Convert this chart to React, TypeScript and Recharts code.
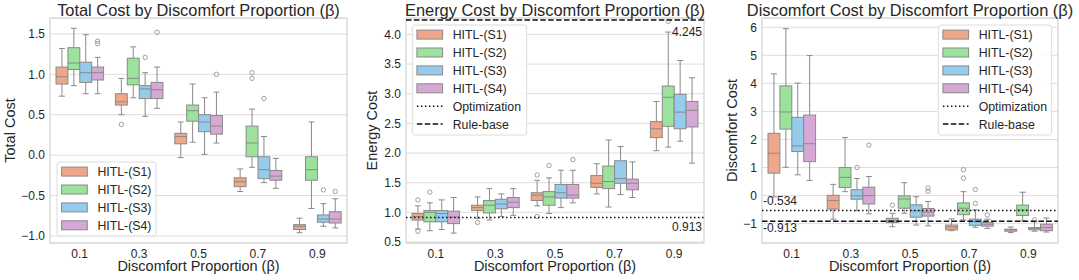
import React from 'react';
import { ComposedChart, Bar, XAxis, YAxis, CartesianGrid, ReferenceLine, ReferenceArea } from 'recharts';

const betas = ['0.1', '0.3', '0.5', '0.7', '0.9'];
const seriesNames = ['HITL-(S1)', 'HITL-(S2)', 'HITL-(S3)', 'HITL-(S4)'];
const seriesColors = ['#eea78a', '#9ce29c', '#95cbec', '#d5a8d5'];

// each box: [whisker low, q1, median, q3, whisker high], one per beta
const totalS1 = [[0.73, 0.88, 0.97, 1.09, 1.32], [0.5, 0.62, 0.66, 0.76, 0.95], [-0.03, 0.14, 0.23, 0.27, 0.41], [-0.45, -0.39, -0.33, -0.28, -0.17], [-0.96, -0.92, -0.88, -0.86, -0.78]];
const totalS2 = [[0.86, 1.06, 1.14, 1.33, 1.57], [0.71, 0.87, 0.95, 1.2, 1.34], [0.16, 0.42, 0.55, 0.62, 0.88], [-0.15, -0.02, 0.15, 0.36, 0.57], [-0.66, -0.31, -0.18, -0.02, 0.41]];
const totalS3 = [[0.76, 0.9, 1.02, 1.15, 1.49], [0.48, 0.7, 0.82, 0.86, 1.02], [0.01, 0.29, 0.41, 0.5, 0.71], [-0.34, -0.29, -0.18, -0.02, 0.23], [-0.88, -0.83, -0.79, -0.74, -0.6]];
const totalS4 = [[0.76, 0.93, 1.02, 1.09, 1.21], [0.58, 0.7, 0.81, 0.9, 1.09], [0.15, 0.26, 0.36, 0.49, 0.78], [-0.41, -0.31, -0.26, -0.19, -0.04], [-0.9, -0.84, -0.79, -0.7, -0.54]];
const totalS1Out = [[], [0.38], [], [], []];
const totalS2Out = [[], [], [], [1.02, 0.95], []];
const totalS3Out = [[], [1.21], [], [0.7], [-0.43]];
const totalS4Out = [[1.41, 1.38], [1.52], [1.0], [], [-0.45]];

const energyS1 = [[0.72, 0.87, 0.93, 0.98, 1.11], [0.9, 1.03, 1.08, 1.12, 1.26], [1.11, 1.2, 1.29, 1.33, 1.54], [1.31, 1.42, 1.49, 1.62, 1.82], [2.04, 2.26, 2.41, 2.53, 2.87]];
const energyS2 = [[0.69, 0.84, 1.0, 1.03, 1.16], [0.87, 0.99, 1.12, 1.2, 1.4], [0.98, 1.12, 1.26, 1.35, 1.58], [1.09, 1.4, 1.52, 1.78, 2.22], [2.1, 2.45, 2.94, 3.13, 4.04]];
const energyS3 = [[0.71, 0.84, 0.98, 1.03, 1.21], [0.93, 1.06, 1.14, 1.22, 1.31], [1.08, 1.24, 1.33, 1.47, 1.71], [1.3, 1.49, 1.57, 1.87, 2.11], [2.2, 2.41, 2.69, 2.99, 3.56]];
const energyS4 = [[0.65, 0.81, 0.92, 1.02, 1.25], [0.95, 1.08, 1.17, 1.25, 1.4], [1.16, 1.24, 1.29, 1.47, 1.71], [1.25, 1.38, 1.49, 1.56, 1.85], [1.83, 2.44, 2.72, 2.87, 3.27]];
const energyS1Out = [[1.21, 0.68], [0.83], [1.63, 0.93], [], []];
const energyS2Out = [[1.34], [], [1.79], [], [4.22]];
const energyS3Out = [[], [], [], [], []];
const energyS4Out = [[], [], [1.89], [], []];

const discS1 = [[-0.05, 0.8, 1.51, 2.22, 4.34], [-0.84, -0.48, -0.18, 0.01, 0.4], [-1.11, -0.96, -0.9, -0.81, -0.63], [-1.25, -1.22, -1.12, -1.05, -0.83], [-1.32, -1.27, -1.22, -1.2, -1.12]];
const discS2 = [[1.01, 2.37, 2.98, 3.91, 5.95], [0.14, 0.29, 0.65, 1.0, 2.07], [-0.63, -0.45, -0.12, -0.01, 0.46], [-0.87, -0.68, -0.45, -0.26, 0.14], [-0.9, -0.71, -0.51, -0.34, 0.12]];
const discS3 = [[0.74, 1.57, 1.77, 2.79, 4.01], [-0.54, -0.13, -0.01, 0.21, 0.61], [-1.05, -0.77, -0.54, -0.33, -0.04], [-1.13, -1.06, -0.93, -0.84, -0.51], [-1.27, -1.22, -1.18, -1.14, -0.93]];
const discS4 = [[0.54, 1.21, 1.85, 2.87, 4.99], [-0.65, -0.3, 0.0, 0.3, 0.68], [-1.08, -0.73, -0.59, -0.46, -0.21], [-1.17, -1.09, -1.02, -0.96, -0.84], [-1.3, -1.25, -1.14, -1.02, -0.8]];
const discS1Out = [[], [], [-0.34], [], []];
const discS2Out = [[], [], [], [0.92, 0.62], []];
const discS3Out = [[], [1.0], [], [0.22, -0.28], [-0.86]];
const discS4Out = [[], [1.8], [0.27, 0.15], [-0.69], []];

const totalTicks = [-1, -0.5, 0, 0.5, 1, 1.5];
const energyTicks = [0.5, 1, 1.5, 2, 2.5, 3, 3.5, 4];
const discTicks = [-1, 0, 1, 2, 3, 4, 5, 6];

const optEnergy = 0.913;
const ruleEnergy = 4.245;
const optDisc = -0.534;
const ruleDisc = -0.913;

const FONT = '"Liberation Sans", Arial, sans-serif';
const TEXT = '#262626';
const EDGE = '#8a8a8a';
const GRID = '#dedede';

const buildRows = (series: number[][][], outs: number[][][]) =>
  betas.map((b, i) => ({
    beta: b,
    boxes: series.map((s, k) => ({ stat: s[i], outs: outs[k][i] })),
  }));

const BoxShape = (props: any) => {
  const { x, y, width, height, box, color } = props;
  const [lo, q1, med, q3, hi] = box.stat;
  const vmin = Math.min(lo, ...box.outs);
  const vmax = Math.max(hi, ...box.outs);
  const top = Math.min(y, y + height);
  const span = Math.abs(height);
  const py = (v: number) => top + ((vmax - v) / (vmax - vmin)) * span;
  const cx = x + width / 2;
  const cap = width * 0.25;
  return (
    <g>
      <line x1={cx} x2={cx} y1={py(hi)} y2={py(q3)} stroke={EDGE} />
      <line x1={cx} x2={cx} y1={py(q1)} y2={py(lo)} stroke={EDGE} />
      <line x1={cx - cap} x2={cx + cap} y1={py(hi)} y2={py(hi)} stroke={EDGE} />
      <line x1={cx - cap} x2={cx + cap} y1={py(lo)} y2={py(lo)} stroke={EDGE} />
      <rect x={x} y={py(q3)} width={width} height={py(q1) - py(q3)} fill={color} stroke={EDGE} />
      <line x1={x} x2={x + width} y1={py(med)} y2={py(med)} stroke={EDGE} />
      {box.outs.map((o: number, i: number) => (
        <circle key={i} cx={cx} cy={py(o)} r={2.2} fill="none" stroke={EDGE} strokeWidth={0.8} />
      ))}
    </g>
  );
};

interface RefDef {
  y: number;
  dash: string;
  text: string;
  align: 'left' | 'right';
  dy: number;
}

interface PanelProps {
  left: number;
  width: number;
  yAxisWidth: number;
  right: number;
  yLabel: string;
  yLabelX: number;
  domain: [number, number];
  ticks: number[];
  fmt: (v: number) => string;
  rows: any[];
  refs: RefDef[];
}

const Panel: React.FC<PanelProps> = ({ left, width, yAxisWidth, right, yLabel, yLabelX, domain, ticks, fmt, rows, refs }) => (
  <div style={{ position: 'absolute', left, top: 0 }}>
    <ComposedChart width={width} height={280} data={rows} margin={{ top: 18, right, bottom: 0, left: 0 }} barCategoryGap="10%" barGap={0}>
      <CartesianGrid vertical={false} stroke={GRID} />
      <XAxis
        dataKey="beta"
        height={37}
        tickSize={0}
        tickMargin={6}
        axisLine={false}
        tick={{ fill: TEXT, fontSize: 12 }}
        label={(p: any) => {
          const vb = p.viewBox;
          return (
            <text x={vb.x + vb.width / 2} y={vb.y + 28} textAnchor="middle" fontSize={14.5} fill={TEXT}>
              Discomfort Proportion (β)
            </text>
          );
        }}
      />
      <YAxis
        type="number"
        domain={domain}
        ticks={ticks}
        allowDataOverflow
        width={yAxisWidth}
        tickSize={0}
        tickMargin={5}
        axisLine={false}
        tickFormatter={fmt}
        tick={{ fill: TEXT, fontSize: 12 }}
        label={(p: any) => {
          const vb = p.viewBox;
          const cx = vb.x + yLabelX;
          const cy = vb.y + vb.height / 2;
          return (
            <text x={cx} y={cy + 5.2} transform={`rotate(-90 ${cx} ${cy})`} textAnchor="middle" fontSize={14.5} fill={TEXT}>
              {yLabel}
            </text>
          );
        }}
      />
      {seriesNames.map((name, k) => (
        <Bar
          key={name}
          name={name}
          dataKey={(r: any) => {
            const b = r.boxes[k];
            return [Math.min(b.stat[0], ...b.outs), Math.max(b.stat[4], ...b.outs)];
          }}
          barSize={11.9}
          isAnimationActive={false}
          shape={(p: any) => <BoxShape {...p} box={p.payload.boxes[k]} color={seriesColors[k]} />}
        />
      ))}
      {refs.map((r) => (
        <ReferenceLine
          key={r.text}
          y={r.y}
          stroke="#111"
          strokeWidth={1.5}
          strokeDasharray={r.dash}
          label={(p: any) => {
            const vb = p.viewBox;
            const tx = r.align === 'right' ? vb.x + vb.width - 2 : vb.x + 1;
            return (
              <text x={tx} y={vb.y + r.dy} textAnchor={r.align === 'right' ? 'end' : 'start'} fontSize={12} fill={TEXT}>
                {r.text}
              </text>
            );
          }}
        />
      ))}
      <ReferenceArea y1={domain[0]} y2={domain[1]} fill="none" stroke="#d2d2d2" strokeWidth={1.2} ifOverflow="visible" />
    </ComposedChart>
  </div>
);

const LegendBox = ({ left, top, width, height, withLines }: { left: number; top: number; width: number; height: number; withLines: boolean }) => {
  const rows = withLines ? [...seriesNames, 'Optimization', 'Rule-base'] : seriesNames;
  return (
    <g>
      <rect x={left} y={top} width={width} height={height} rx={3} fill="#fff" fillOpacity={0.85} stroke="#dcdcdc" />
      {rows.map((label, i) => {
        const cy = top + 9.6 + i * 17.9;
        return (
          <g key={label}>
            {i < 4 ? (
              <rect x={left + 4.6} y={cy - 4.5} width={25.7} height={9} fill={seriesColors[i]} stroke={EDGE} />
            ) : (
              <line x1={left + 4.6} x2={left + 30.3} y1={cy} y2={cy} stroke="#111" strokeWidth={1.5} strokeDasharray={i === 4 ? '1.5 2.5' : '5.5 2.4'} />
            )}
            <text x={left + 40.4} y={cy + 4.4} fontSize={12.3} fill={TEXT}>
              {label}
            </text>
          </g>
        );
      })}
    </g>
  );
};

const minus = (s: string) => s.replace('-', '\u2212');

export default function App() {
  const totalRows = buildRows([totalS1, totalS2, totalS3, totalS4], [totalS1Out, totalS2Out, totalS3Out, totalS4Out]);
  const energyRows = buildRows([energyS1, energyS2, energyS3, energyS4], [energyS1Out, energyS2Out, energyS3Out, energyS4Out]);
  const discRows = buildRows([discS1, discS2, discS3, discS4], [discS1Out, discS2Out, discS3Out, discS4Out]);

  return (
    <div style={{ position: 'absolute', left: 0, top: 0, width: 1079, height: 280, background: '#fff', fontFamily: FONT }}>
      <Panel
        left={0}
        width={360}
        yAxisWidth={50}
        right={13}
        yLabel="Total Cost"
        yLabelX={9.5}
        domain={[-1.087, 1.697]}
        ticks={totalTicks}
        fmt={(v) => minus(v.toFixed(1))}
        rows={totalRows}
        refs={[]}
      />
      <Panel
        left={360}
        width={355}
        yAxisWidth={46}
        right={11}
        yLabel="Energy Cost"
        yLabelX={12}
        domain={[0.483, 4.277]}
        ticks={energyTicks}
        fmt={(v) => v.toFixed(1)}
        rows={energyRows}
        refs={[
          { y: optEnergy, dash: '1.5 2.5', text: '0.913', align: 'right', dy: 14 },
          { y: ruleEnergy, dash: '5.5 2.4', text: '4.245', align: 'right', dy: 16 },
        ]}
      />
      <Panel
        left={715}
        width={364}
        yAxisWidth={47}
        right={21}
        yLabel="Discomfort Cost"
        yLabelX={17}
        domain={[-1.69, 6.33]}
        ticks={discTicks}
        fmt={(v) => minus(String(v))}
        rows={discRows}
        refs={[
          { y: optDisc, dash: '1.5 2.5', text: '-0.534', align: 'left', dy: -6 },
          { y: ruleDisc, dash: '5.5 2.4', text: '-0.913', align: 'left', dy: 11 },
        ]}
      />
      <svg width={1079} height={280} style={{ position: 'absolute', left: 0, top: 0, pointerEvents: 'none' }}>
        <text x={198.5} y={15.7} textAnchor="middle" fontSize={16.4} fill={TEXT}>Total Cost by Discomfort Proportion (β)</text>
        <text x={555} y={15.7} textAnchor="middle" fontSize={16.4} fill={TEXT}>Energy Cost by Discomfort Proportion (β)</text>
        <text x={910} y={15.7} textAnchor="middle" fontSize={16.4} fill={TEXT}>Discomfort Cost by Discomfort Proportion (β)</text>
        <LegendBox left={57} top={162} width={99} height={74} withLines={false} />
        <LegendBox left={412.3} top={25} width={114.4} height={110} withLines />
        <LegendBox left={938.3} top={25} width={113.4} height={110} withLines />
      </svg>
    </div>
  );
}
